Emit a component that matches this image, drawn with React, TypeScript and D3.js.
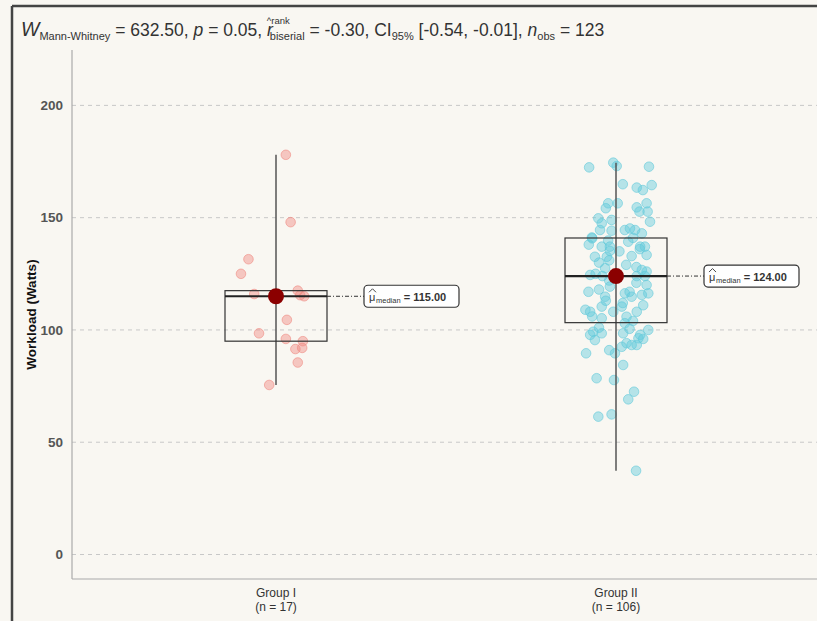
import * as d3 from "d3";

const categories = ["Group I", "Group II"];

// workload values (Watts), with horizontal jitter in category units
const groupI = [178, 148, 131.5, 125, 116, 117.5, 115.5, 115, 104.5, 98.5, 96, 95, 92, 91.5, 85.5, 75.5, 115];
const groupIJitter = [0.029, 0.043, -0.081, -0.103, -0.064, 0.064, 0.071, 0.083, 0.032, -0.05, 0.029, 0.079, 0.077, 0.057, 0.064, -0.02, 0.0];

const groupII = [
  172.4, 174.5, 173, 172.7, 164.9, 163.4, 162.3, 164.5, 156.4, 154.2, 156.4, 154.6, 156.4, 152.7, 152.7,
  149.7, 147.5, 149, 148.2, 144.5, 144.2, 144.5, 145.2, 144.5, 143, 141.2,
  140.8, 139.8, 137.1, 137.1, 139.3, 137.1, 137.1, 132.6, 132.6, 135.2, 132.9, 133.4, 124.5, 127.5, 126.7, 124, 124,
  117, 119.3, 114.8, 116.3, 114.8, 115.6, 116.3, 108.1, 110.4, 108.1, 110.4, 105.9, 105.2, 108.1, 103,
  99.2, 97.8, 95.5, 98.5, 98.5, 94.1, 93.3, 93.3, 97.8, 100, 96.3, 92.5, 89.6, 89.6, 84.4, 78.5, 77.7,
  72.5, 69.1, 61.4, 62.4, 37.3,
  101, 96, 91, 100.5,
  128, 130, 135, 138, 126, 129, 141, 131, 136, 125,
  121, 118, 112, 106, 120, 113, 111, 104, 122, 109, 117, 124,
];
const groupIIJitter = [
  -0.079, -0.008, 0.002, 0.097, 0.02, 0.061, 0.079, 0.105, -0.023, -0.03, 0.005, 0.061, 0.09, 0.093, 0.069,
  -0.052, -0.042, -0.013, 0.1, -0.047, -0.013, 0.026, 0.041, 0.056, 0.076, -0.071,
  -0.07, -0.023, -0.042, -0.018, 0.036, 0.071, 0.085, -0.062, -0.027, -0.018, 0.046, 0.09, -0.076, -0.032, 0.076, 0.085, 0.061,
  -0.081, -0.018, -0.032, 0.026, 0.046, 0.076, 0.095, -0.076, -0.042, -0.008, 0.017, 0.031, -0.042, 0.061, 0.026,
  -0.067, -0.076, -0.062, -0.042, 0.021, 0.031, 0.046, 0.061, 0.071, 0.095, 0.066, 0.017, -0.088, -0.003, 0.021, -0.057, -0.006,
  0.053, 0.036, -0.052, -0.013, 0.059,
  -0.05, 0.08, -0.02, 0.04,
  0.06, -0.05, 0.01, -0.08, 0.09, 0.03, 0.05, -0.02, 0.07, -0.06,
  0.06, -0.05, 0.02, -0.07, 0.09, -0.03, 0.08, 0.05, -0.02, -0.09, 0.04, -0.04,
];

const yTicks = [0, 50, 100, 150, 200];
const pointColors = ["#F08A82", "#62C9DB"];

const W = 817;
const H = 621;
const font = "'Liberation Sans', Arial, sans-serif";

export default function App() {
  const panel = { left: 72, top: 50, bottom: 579, right: 820 };
  const y = d3.scaleLinear().domain([0, 200]).range([554.5, 105.4]);
  const x = d3.scalePoint<string>().domain(categories).range([panel.left, panel.right]).padding(0.6);
  const step = x.step();
  const boxHalf = 0.15 * step;

  const groups = [
    { name: categories[0], values: groupI, jitter: groupIJitter, color: pointColors[0] },
    { name: categories[1], values: groupII, jitter: groupIIJitter, color: pointColors[1] },
  ];

  return (
    <svg width={W} height={H} style={{ position: "absolute", left: 0, top: 0 }} fontFamily={font}>
      <rect x={0} y={0} width={W} height={H} fill="#F9F7F2" />
      {/* outer frame */}
      <line x1={12} x2={12} y1={6} y2={H} stroke="#444" strokeWidth={2.5} />
      <line x1={12} x2={W} y1={6} y2={6} stroke="#444" strokeWidth={2.5} />

      {/* title */}
      <text x={21} y={36} fontSize={17.5} fill="#333">
        <tspan fontStyle="italic" fontSize={19.5}>W</tspan>
        <tspan fontSize={11} dy={4}>Mann-Whitney</tspan>
        <tspan dy={-4}> = 632.50, </tspan>
        <tspan fontStyle="italic">p</tspan>
        <tspan> = 0.05, </tspan>
        <tspan fontStyle="italic">r</tspan>
        <tspan fontSize={9.5} dx={-6} dy={-12}>^rank</tspan>
        <tspan fontSize={11} dx={-20} dy={16}>biserial</tspan>
        <tspan dy={-4}> = -0.30, CI</tspan>
        <tspan fontSize={11} dy={4}>95%</tspan>
        <tspan dy={-4}> [-0.54, -0.01], </tspan>
        <tspan fontStyle="italic">n</tspan>
        <tspan fontSize={11} dy={4}>obs</tspan>
        <tspan dy={-4}> = 123</tspan>
      </text>

      {/* grid */}
      {yTicks.map((t) => (
        <g key={t}>
          <line x1={panel.left} x2={W} y1={y(t)} y2={y(t)} stroke="#c8c8c8" strokeDasharray="4,4" />
          <text x={63} y={y(t)} dy="0.35em" textAnchor="end" fontSize={13.5} fontWeight="bold" fill="#555">
            {t}
          </text>
        </g>
      ))}

      {/* panel axes */}
      <line x1={panel.left} x2={panel.left} y1={panel.top} y2={panel.bottom} stroke="#aaa" strokeWidth={1.2} />
      <line x1={panel.left} x2={W} y1={panel.bottom} y2={panel.bottom} stroke="#aaa" strokeWidth={1.2} />

      <text
        transform={`translate(36,${(panel.top + panel.bottom) / 2}) rotate(-90)`}
        textAnchor="middle"
        fontSize={13.5}
        fontWeight="bold"
        fill="#111"
      >
        Workload (Watts)
      </text>

      {groups.map((g) => {
        const cx = x(g.name) as number;
        const sorted = [...g.values].sort(d3.ascending);
        const q1 = d3.quantile(sorted, 0.25) as number;
        const med = d3.quantile(sorted, 0.5) as number;
        const q3 = d3.quantile(sorted, 0.75) as number;
        const [lo, hi] = d3.extent(sorted) as [number, number];
        const my = y(med);
        const lx = cx + boxHalf + 37;
        const lw = 95;
        return (
          <g key={g.name}>
            {g.values.map((v, i) => (
              <circle
                key={i}
                cx={cx + g.jitter[i] * step}
                cy={y(v)}
                r={4.8}
                fill={g.color}
                fillOpacity={0.45}
                stroke={g.color}
                strokeOpacity={0.6}
                strokeWidth={1}
              />
            ))}
            <line x1={cx} x2={cx} y1={y(hi)} y2={y(lo)} stroke="#555" strokeWidth={1.5} />
            <rect
              x={cx - boxHalf}
              y={y(q3)}
              width={boxHalf * 2}
              height={y(q1) - y(q3)}
              fill="none"
              stroke="#333"
              strokeWidth={1.2}
            />
            <line x1={cx - boxHalf} x2={cx + boxHalf} y1={my} y2={my} stroke="#222" strokeWidth={2.2} />
            <circle cx={cx} cy={my} r={8} fill="#8B0000" />
            <line x1={cx + boxHalf} x2={lx} y1={my} y2={my} stroke="#333" strokeWidth={1} strokeDasharray="4,2,1,2" />
            <rect x={lx} y={my - 11} width={lw} height={22} rx={4} fill="#fff" stroke="#333" strokeWidth={1.2} />
            <text x={lx + 5} y={my + 5} fontSize={11} fill="#333">μ</text>
            <path
              d={`M${lx + 5},${my - 4} L${lx + 8.5},${my - 7.5} L${lx + 12},${my - 4}`}
              fill="none"
              stroke="#333"
              strokeWidth={0.9}
            />
            <text x={lx + 12} y={my + 5} fontSize={11} fill="#333">
              <tspan fontSize={7.5} dy={2}>median</tspan>
              <tspan dy={-2} fontWeight="bold">{` = ${med.toFixed(2)}`}</tspan>
            </text>
            <text x={cx} y={597} textAnchor="middle" fontSize={12} fill="#333">
              {g.name}
            </text>
            <text x={cx} y={611} textAnchor="middle" fontSize={12} fill="#333">
              {`(n = ${g.values.length})`}
            </text>
          </g>
        );
      })}
    </svg>
  );
}
